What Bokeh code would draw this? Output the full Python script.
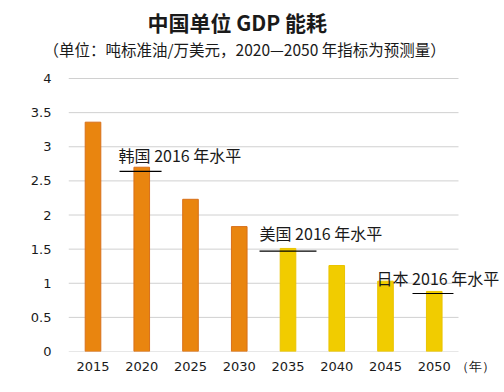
from bokeh.plotting import figure
from bokeh.models import Label, Range1d, FixedTicker, ColumnDataSource, Title
from bokeh.embed import file_html
from bokeh.resources import INLINE

years = [2015, 2020, 2025, 2030, 2035, 2040, 2045, 2050]
values = [3.36, 2.70, 2.23, 1.83, 1.51, 1.26, 1.03, 0.88]
is_forecast = [False, False, False, False, True, True, True, True]
y_ticks = [0, 0.5, 1, 1.5, 2, 2.5, 3, 3.5, 4]
y_tick_labels = ["0", "0.5", "1", "1.5", "2", "2.5", "3", "3.5", "4"]
x_unit_label = "（年）"

NB = "\u00a0"
ref_names = ["韩国" + NB + "2016" + NB + "年水平", "美国" + NB + "2016" + NB + "年水平", "日本" + NB + "2016" + NB + "年水平"]
ref_levels = [2.64, 1.47, 0.85]

title_text = "中国单位 GDP 能耗"
subtitle_text = "（单位：吨标准油/万美元，2020—2050 年指标为预测量）"

ORANGE = "#E9850F"
ORANGE_EDGE = "#D8701A"
YELLOW = "#F1CC00"
YELLOW_EDGE = "#EAC400"
CJK = "Noto Sans CJK SC"
TXT = "#1a1a1a"

colors = [YELLOW if f else ORANGE for f in is_forecast]
edges = [YELLOW_EDGE if f else ORANGE_EDGE for f in is_forecast]
src = ColumnDataSource(dict(x=years, top=values, color=colors, edge=edges))

x0 = 2012.487
top_px = 59
p = figure(width=504, height=392, output_backend="svg", toolbar_location=None, title=None,
           x_range=Range1d(x0, x0 + 436 / 9.75), y_range=Range1d(0, (351 - top_px) / 68.25),
           min_border_left=68, min_border_right=0, min_border_top=top_px, min_border_bottom=41)
p.outline_line_color = None
p.background_fill_color = "white"
p.xgrid.grid_line_color = None
p.ygrid.grid_line_color = None

# gridlines over the category span
grid_x0 = x0
grid_x1 = x0 + 40
p.segment(x0=[grid_x0] * len(y_ticks), y0=y_ticks, x1=[grid_x1] * len(y_ticks), y1=y_ticks,
          line_color="#d0d0d0", line_width=1)

p.vbar(x="x", top="top", width=1.6, source=src, fill_color="color", line_color="edge", line_width=1)

# axes
p.yaxis.ticker = FixedTicker(ticks=y_ticks)
p.yaxis.major_label_overrides = {t: l for t, l in zip(y_ticks, y_tick_labels)}
p.yaxis.axis_line_color = None
p.yaxis.major_tick_line_color = None
p.yaxis.minor_tick_line_color = None
p.yaxis.major_label_standoff = 11

unit_pos = 2054.2
p.xaxis.ticker = FixedTicker(ticks=years + [unit_pos])
overrides = {y: str(y) for y in years}
overrides[unit_pos] = x_unit_label
p.xaxis.major_label_overrides = overrides
p.xaxis.axis_line_color = None
p.xaxis.major_tick_line_color = None
p.xaxis.minor_tick_line_color = None
p.xaxis.major_label_standoff = 1
for ax in (p.xaxis, p.yaxis):
    ax.major_label_text_font = "DejaVu Sans"
    ax.major_label_text_font_size = "13px"
    ax.major_label_text_color = TXT

# reference segments and labels
seg_x0 = [2017.72, 2032.08, 2047.77]
seg_x1 = [2022.03, 2037.92, 2051.97]
lab_x = [2017.62, 2032.08, 2044.08]
lab_dy = [0.24, 0.27, 0.23]
p.segment(x0=seg_x0, y0=ref_levels, x1=seg_x1, y1=ref_levels, line_color="black", line_width=1.2)
for name, lx, lv, dy in zip(ref_names, lab_x, ref_levels, lab_dy):
    p.add_layout(Label(x=lx, y=lv + dy, text=name, text_font=CJK, text_font_size="16px",
                       text_color=TXT, text_baseline="middle", text_align="left"))

# titles (subtitle first: nearest the plot)
p.add_layout(Title(text=subtitle_text, text_font=CJK, text_font_size="15.5px", text_font_style="normal",
                   text_color=TXT, align="left", offset=-25, standoff=0), "above")
p.add_layout(Title(text=title_text, text_font=CJK, text_font_size="21px", text_font_style="bold",
                   text_color=TXT, align="left", offset=79, standoff=-2), "above")

open("out.html", "w").write(file_html(p, INLINE))
